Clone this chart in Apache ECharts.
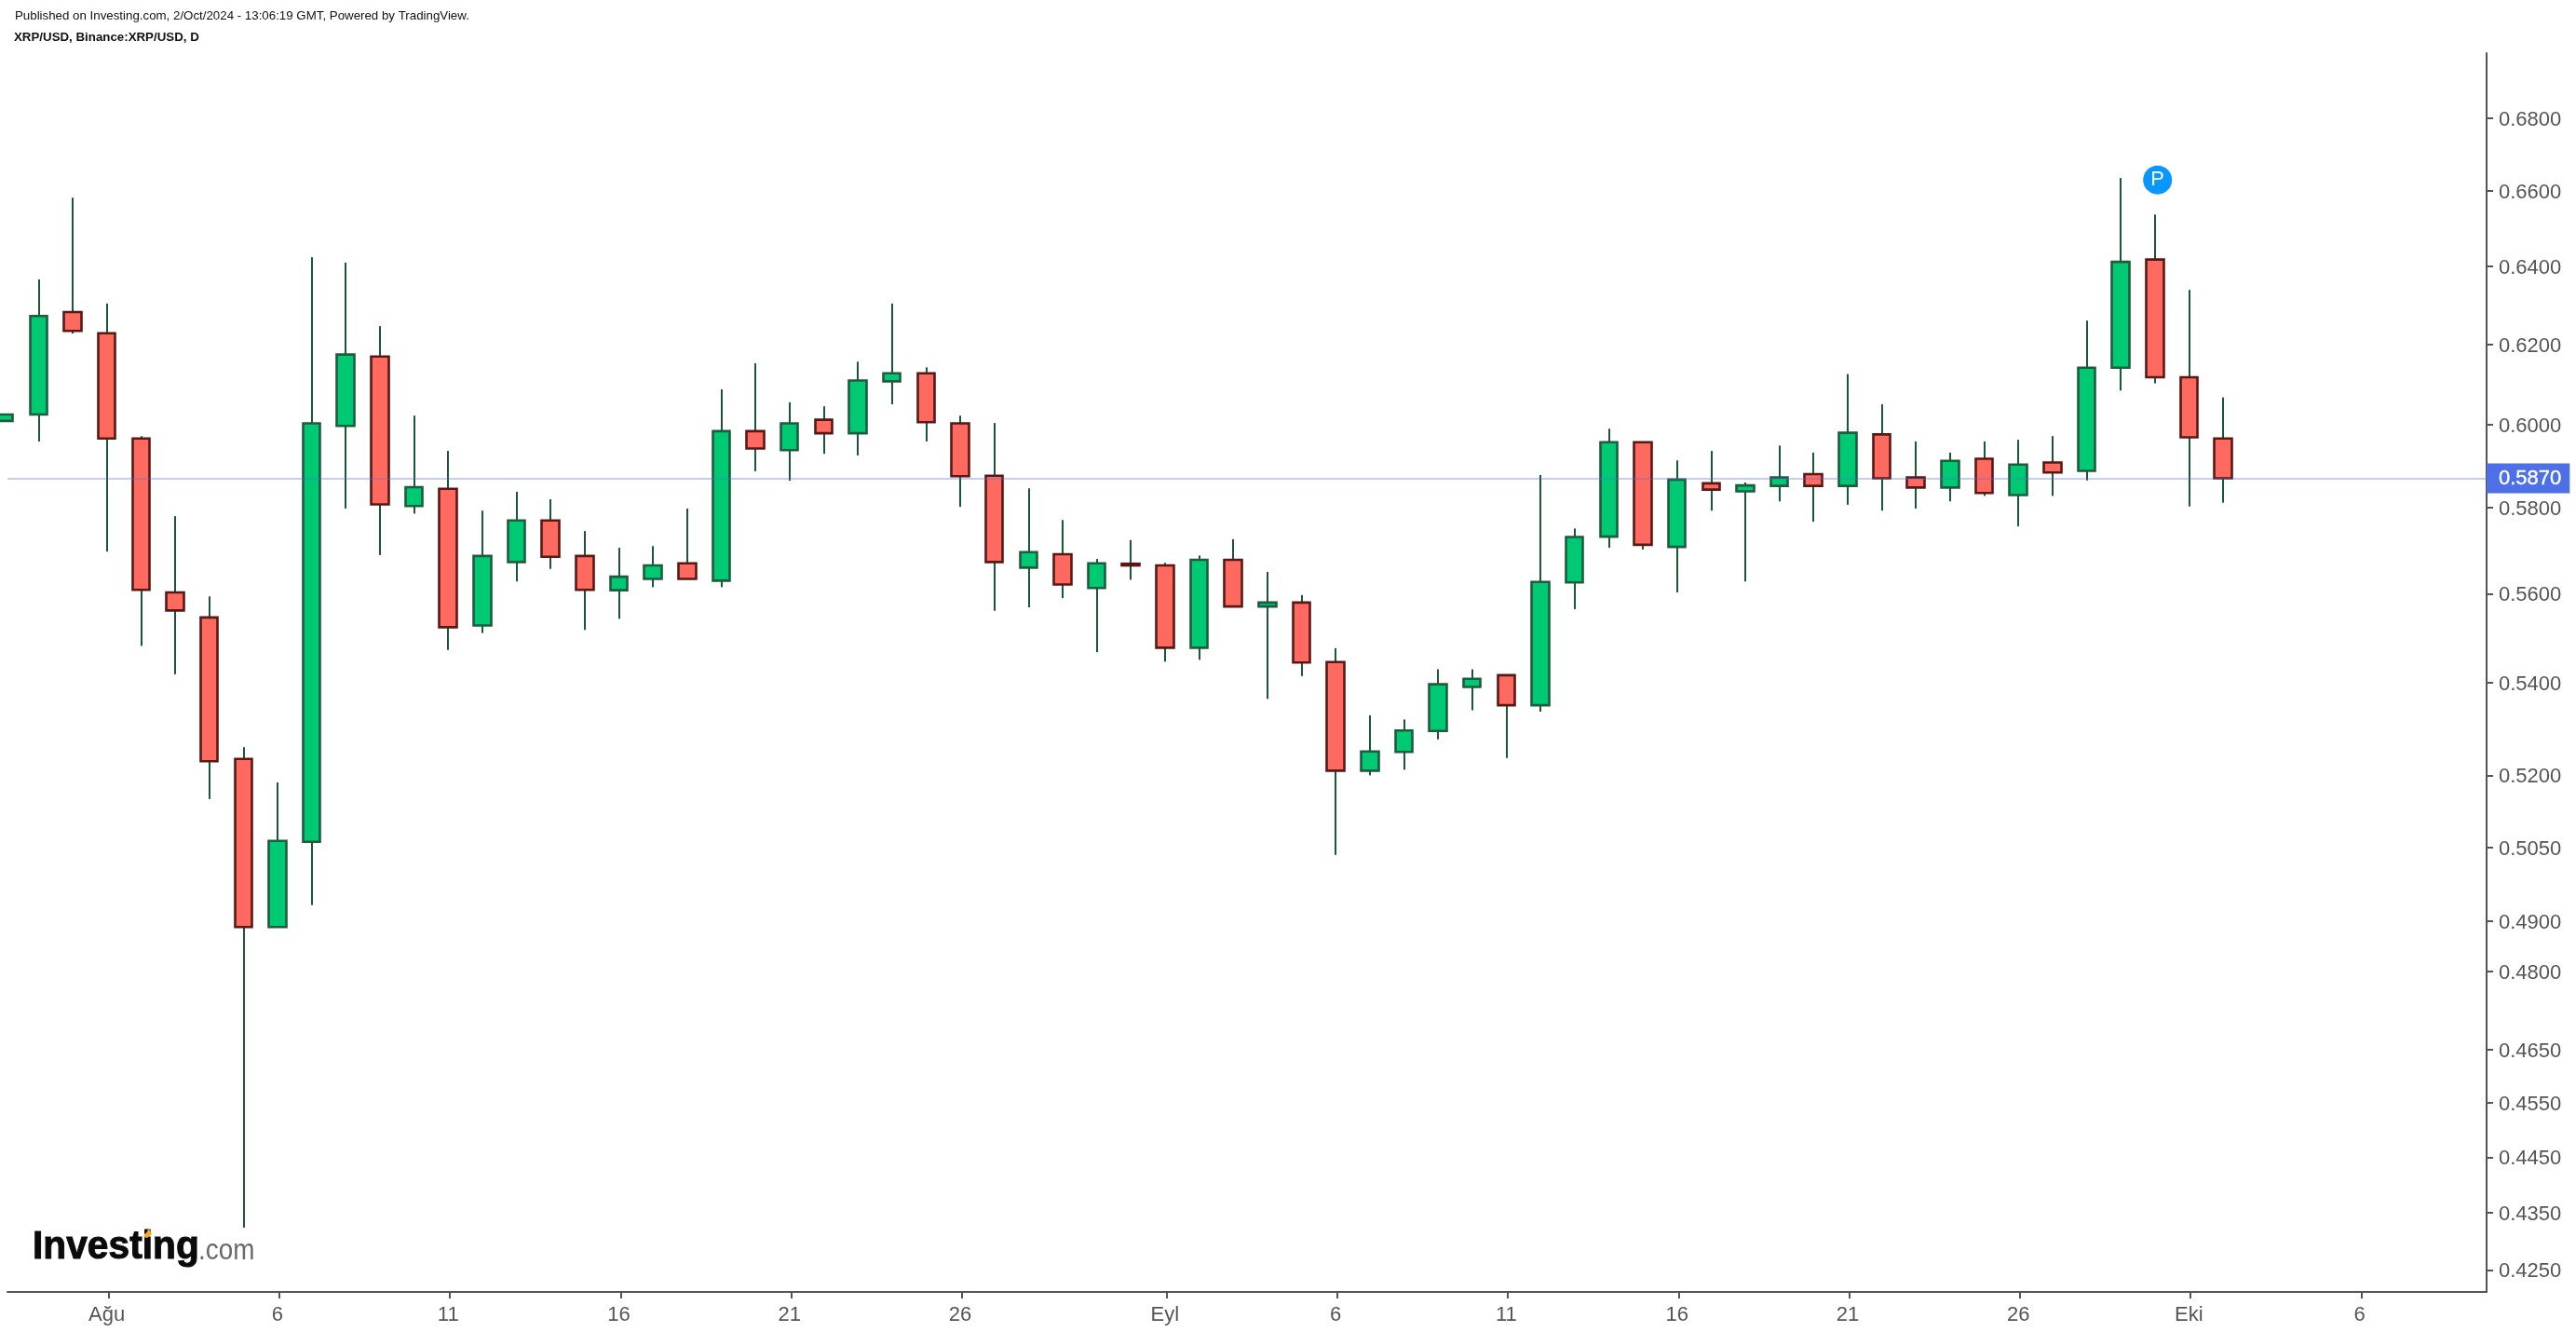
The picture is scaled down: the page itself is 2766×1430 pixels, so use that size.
<!DOCTYPE html>
<html>
<head>
<meta charset="utf-8">
<style>html,body{margin:0;padding:0;background:#fff}#c{width:2766px;height:1430px}</style>
<script src="https://cdn.jsdelivr.net/npm/echarts@6/dist/echarts.min.js"></script>
</head>
<body>
<div id="c"></div>
<script>
const publishedText = 'Published on Investing.com, 2/Oct/2024 - 13:06:19 GMT, Powered by TradingView.';
const symbolText = 'XRP/USD, Binance:XRP/USD, D';
// day offset from 1 Aug 2024
const days = [-3,-2,-1,0,1,2,3,4,5,6,7,8,9,10,11,12,13,14,15,16,17,18,19,20,21,22,23,24,25,26,27,28,29,30,31,32,33,34,35,36,37,38,39,40,41,42,43,44,45,46,47,48,49,50,51,52,53,54,55,56,57,58,59,60,61,62];
const opens = [.6009,.6025,.6282,.6228,.5966,.5603,.5546,.5235,.4888,.5061,.5997,.6169,.5804,.5845,.5528,.5673,.577,.5687,.5608,.5634,.567,.563,.5984,.5938,.6012,.5979,.6107,.6127,.6003,.5876,.566,.5691,.5613,.5669,.5665,.5478,.5678,.5571,.558,.5446,.521,.525,.5295,.5391,.5417,.5351,.5626,.5732,.5957,.5708,.5858,.5839,.5852,.588,.5852,.5976,.5872,.5848,.5917,.583,.5908,.5888,.6141,.6418,.6117,.5966];
const closes = [.6025,.6272,.6234,.5966,.5609,.5562,.523,.4888,.5063,.6003,.6174,.5808,.5849,.5524,.5687,.577,.5685,.5609,.5639,.5665,.5634,.5984,.5942,.6003,.5979,.6109,.6127,.6006,.5875,.5673,.5696,.5621,.567,.5665,.5478,.5678,.5571,.558,.5445,.521,.5251,.5296,.5397,.5409,.5351,.5627,.5731,.5957,.5713,.5867,.5843,.5853,.5872,.5852,.598,.587,.5848,.5912,.5835,.5903,.5884,.6141,.6412,.6117,.5969,.587];
const lows = [.6009,.5959,.6227,.5697,.5482,.5419,.515,.4324,.4888,.4932,.5798,.5689,.5786,.5473,.5511,.5628,.5657,.5518,.5543,.5615,.5634,.5615,.5887,.5864,.5929,.5925,.605,.5959,.5802,.5561,.5569,.559,.5468,.5632,.5447,.5451,.5571,.5365,.5415,.5034,.52,.5212,.5277,.534,.5237,.5337,.5565,.5706,.5702,.5603,.5793,.5628,.5815,.5767,.5807,.5793,.5798,.5815,.5828,.5756,.5828,.5865,.6084,.6102,.5803,.5812];
const highs = [.6025,.6366,.6582,.6304,.5972,.578,.5594,.526,.5185,.6424,.641,.6246,.6022,.5936,.5793,.5838,.582,.5745,.5706,.571,.5798,.6087,.6152,.6055,.6045,.6156,.6304,.6142,.6022,.6004,.5846,.5771,.568,.5724,.5671,.5688,.5726,.565,.5597,.5477,.5329,.532,.543,.543,.5417,.5878,.5751,.599,.5957,.5913,.5936,.586,.5949,.5932,.6125,.605,.5959,.5932,.5959,.5963,.5972,.626,.6635,.6537,.6339,.6067];
const xTickDays = [0,5,10,15,20,25,31,36,41,46,51,56,61,66];
const xTickLabels = ['Ağu','6','11','16','21','26','Eyl','6','11','16','21','26','Eki','6'];
const yTickValues = [0.68,0.66,0.64,0.62,0.60,0.58,0.56,0.54,0.52,0.505,0.49,0.48,0.465,0.455,0.445,0.435,0.425];
const lastPrice = 0.587;
const noteDay = 60.08, notePrice = 0.663;

const AXIS = '#555555';
const FONT = '"Liberation Sans", Arial, sans-serif';
const WICK = '#1b5639';
const onePixelInDays = 1/36.65; // second 1px pass makes the wick a crisp 2px stroke
const wickData = days.map((d,i)=>[d,opens[i],closes[i],lows[i],highs[i]]);
const wickData2 = days.map((d,i)=>[d+onePixelInDays,opens[i],closes[i],lows[i],highs[i]]);
const bodyData = days.map((d,i)=>[d,opens[i],closes[i],Math.min(opens[i],closes[i]),Math.max(opens[i],closes[i])]);
const wickStyle = {color:WICK,color0:WICK,borderColor:WICK,borderColor0:WICK,borderWidth:1};

const chart = echarts.init(document.getElementById('c'), null, {renderer:'canvas'});
chart.setOption({
  animation:false,
  backgroundColor:'#ffffff',
  title:[
    {text:publishedText,left:11,top:6,textStyle:{fontFamily:FONT,fontSize:13.3,fontWeight:'normal',color:'#111'}},
    {text:symbolText,left:10,top:29,textStyle:{fontFamily:FONT,fontSize:13.3,fontWeight:'bold',color:'#111'}}
  ],
  grid:{left:8,right:96,top:57,bottom:43,containLabel:false},
  xAxis:{
    type:'value',min:-2.911,max:69.72,
    splitLine:{show:false},
    axisLine:{onZero:false,lineStyle:{color:AXIS,width:2}},
    axisTick:{show:true,length:7,customValues:xTickDays.map(d=>d+0.05),lineStyle:{color:AXIS,width:2}},
    axisLabel:{show:true,customValues:xTickDays,margin:14,fontFamily:FONT,fontSize:22,color:AXIS,
      formatter:v=>xTickLabels[xTickDays.indexOf(v)]}
  },
  yAxis:{
    type:'log',logBase:10,position:'right',min:0.42119,max:0.6982,
    splitLine:{show:false},minorTick:{show:false},
    axisLine:{onZero:false,lineStyle:{color:AXIS,width:2}},
    axisTick:{show:true,length:7,customValues:yTickValues,lineStyle:{color:AXIS,width:2}},
    axisLabel:{show:true,customValues:yTickValues,margin:13,
      formatter:v=>'{v|'+Number(v).toFixed(4)+'}',
      rich:{v:{padding:[4,0,0,0],fontFamily:FONT,fontSize:22,color:AXIS}}}
  },
  series:[
    {type:'candlestick',name:'wick',data:wickData,barWidth:0,silent:true,itemStyle:wickStyle},
    {type:'candlestick',name:'wick2',data:wickData2,barWidth:0,silent:true,itemStyle:wickStyle},
    {type:'candlestick',name:'XRP/USD',data:bodyData,barWidth:19,silent:true,
      itemStyle:{color:'#00c974',color0:'#ff6a60',borderColor:'#1d5c3d',borderColor0:'#5a1815',borderWidth:2.6},
      markLine:{silent:true,symbol:'none',animation:false,precision:4,
        lineStyle:{color:'rgba(77,111,232,0.34)',width:2,type:'solid'},
        label:{show:true,position:'end',distance:0,formatter:lastPrice.toFixed(4),color:'#fff',backgroundColor:'#4d6fe8',
          textBorderColor:'#fff',textBorderWidth:0.4,
          fontFamily:FONT,fontSize:22,padding:[5,9,5,13],align:'left',lineHeight:22},
        data:[{yAxis:lastPrice}]},
      markPoint:{silent:true,symbol:'circle',symbolSize:31,animation:false,
        itemStyle:{color:'#0997ff'},
        label:{show:true,formatter:'P',color:'#fff',fontFamily:FONT,fontSize:22},
        data:[{coord:[noteDay,notePrice]}]}
    }
  ],
  graphic:[
    {type:'text',x:35,y:1339.5,scaleX:0.97,silent:true,
      style:{text:'Investing',font:'bold 42px "Liberation Sans"',fill:'#0b0b0b',stroke:'#0b0b0b',lineWidth:1,verticalAlign:'middle',align:'left'}},
    {type:'text',x:213,y:1343,scaleX:0.87,silent:true,
      style:{text:'.com',font:'32px "Liberation Sans"',fill:'#6a6a6a',verticalAlign:'middle',align:'left'}},
    {type:'polygon',silent:true,shape:{points:[[160,1319],[163,1325],[158,1329],[154,1328]]},style:{fill:'#f7a823'}}
  ]
});
</script>
</body>
</html>
